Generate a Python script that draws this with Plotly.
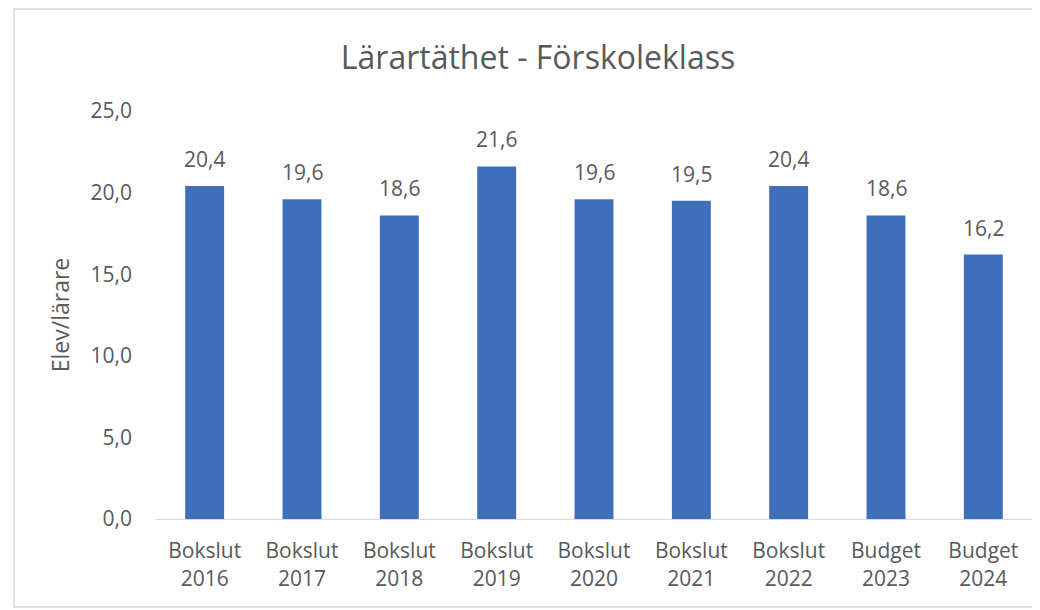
import plotly.graph_objects as go

# kategorier och värden
categories = ['Bokslut<br>2016', 'Bokslut<br>2017', 'Bokslut<br>2018', 'Bokslut<br>2019',
              'Bokslut<br>2020', 'Bokslut<br>2021', 'Bokslut<br>2022', 'Budget<br>2023',
              'Budget<br>2024']
values = [20.4, 19.6, 18.6, 21.6, 19.6, 19.5, 20.4, 18.6, 16.2]
tick_vals = [0, 5, 10, 15, 20, 25]
tick_text = ['0,0', '5,0', '10,0', '15,0', '20,0', '25,0']

gray = '#595959'
font_family = 'Open Sans, Noto Sans, sans-serif'

# sidan har 8px marginal i webbläsaren, figuren görs därför lite mindre
W, H = 1032, 602
l, r, t, b = 148, 8, 103, 91
pw, ph = W - l - r, H - t - b

fig = go.Figure(go.Bar(
    x=categories,
    y=values,
    marker=dict(color='#3F6FBA', line=dict(width=0)),
    hoverinfo='x+y',
))

# dataetiketter ovanför staplarna
for c, v in zip(categories, values):
    fig.add_annotation(x=c, y=v, text=f'{v:.1f}'.replace('.', ','), showarrow=False,
                       yanchor='bottom', yshift=11, font=dict(size=21, color=gray))

# ram runt hela diagrammet
fig.add_shape(type='rect', xref='paper', yref='paper',
              x0=(6 - l) / pw, x1=(1031 - l) / pw,
              y0=(H - b - 599) / ph, y1=(H - b - 1) / ph,
              line=dict(color='#D9D9D9', width=1.5), fillcolor='rgba(0,0,0,0)', layer='below')

fig.update_layout(
    width=W, height=H,
    margin=dict(l=l, r=r, t=t, b=b),
    paper_bgcolor='white', plot_bgcolor='white',
    separators=', ',
    font=dict(family=font_family, color=gray),
    title=dict(text='Lärartäthet - Förskoleklass', x=530 / W, xanchor='center',
               y=1 - 50 / H, yanchor='middle', font=dict(size=32, color=gray)),
    bargap=0.6,
    showlegend=False,
)
fig.update_xaxes(showline=True, linecolor='#D9D9D9', linewidth=1, ticks='',
                 tickfont=dict(size=21, color=gray), showgrid=False, ticklabelstandoff=13)
fig.update_yaxes(range=[0, 25], tickvals=tick_vals, ticktext=tick_text, showgrid=False,
                 zeroline=False, showline=False, ticks='', ticklabelstandoff=23,
                 tickfont=dict(size=21, color=gray),
                 title=dict(text='Elev/lärare', font=dict(size=23, color=gray), standoff=14))

fig.write_html('out.html')
